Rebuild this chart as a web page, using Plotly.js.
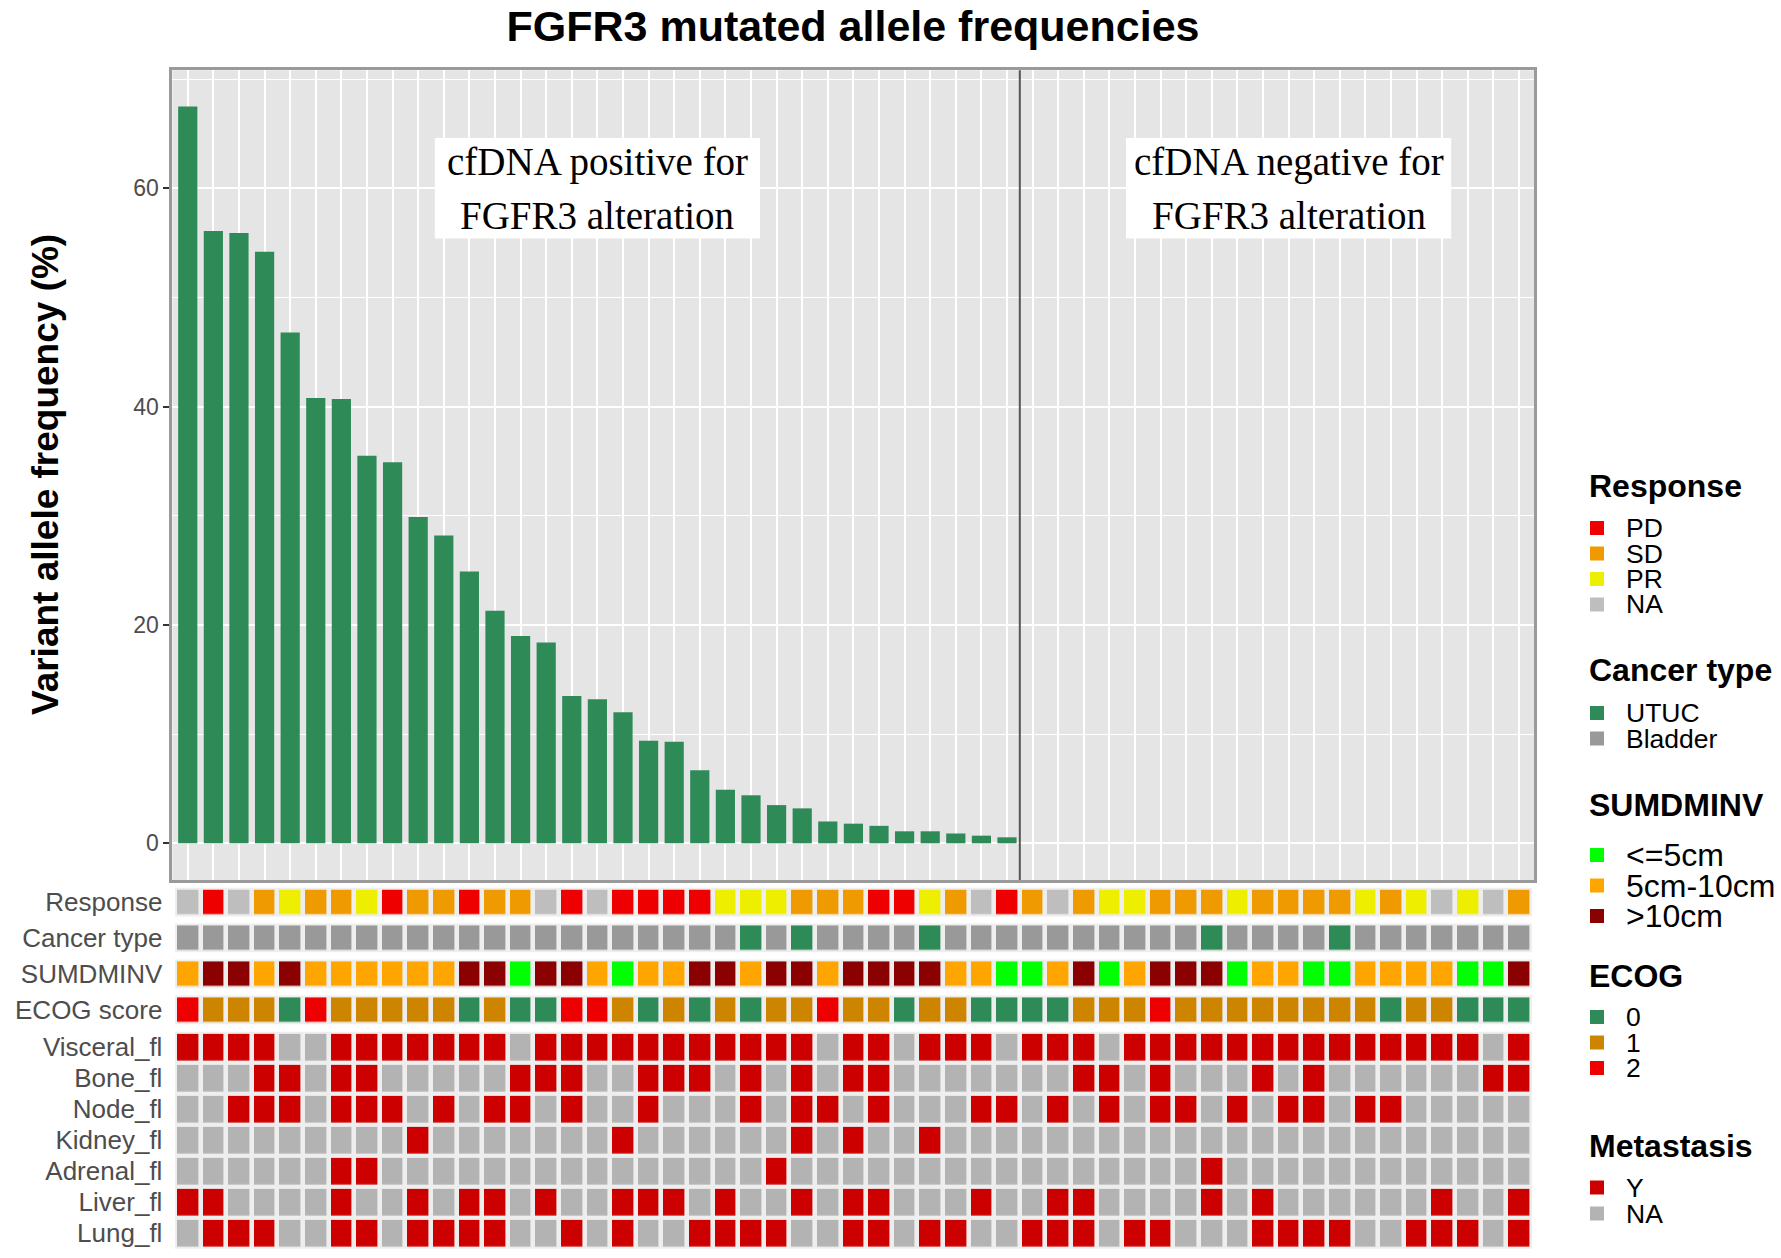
<!DOCTYPE html>
<html><head><meta charset="utf-8">
<script src="https://cdn.plot.ly/plotly-3.0.1.min.js"></script>
<style>html,body{margin:0;padding:0;background:#fff;}#chart{width:1781px;height:1258px;}</style>
</head><body><div id="chart"></div>
<script>
// ---------------- DATA ----------------
const vaf = [67.5, 56.1, 55.9, 54.2, 46.8, 40.8, 40.7, 35.5, 34.9, 29.9, 28.2, 24.9, 21.3, 19.0, 18.4,
  13.5, 13.2, 12.0, 9.4, 9.3, 6.7, 4.9, 4.4, 3.5, 3.2, 2.0, 1.8, 1.6, 1.1, 1.1, 0.9, 0.7, 0.55];
const nPatients = 53;

const response = ['NA','PD','NA','SD','PR','SD','SD','PR','PD','SD',
  'SD','PD','SD','SD','NA','PD','NA','PD','PD','PD',
  'PD','PR','PR','PR','SD','SD','SD','PD','PD','PR',
  'SD','NA','PD','SD','NA','SD','PR','PR','SD','SD',
  'SD','PR','SD','SD','SD','SD','PR','SD','PR','NA',
  'PR','NA','SD'];
const cancerType = ['Bladder','Bladder','Bladder','Bladder','Bladder','Bladder','Bladder','Bladder','Bladder','Bladder',
  'Bladder','Bladder','Bladder','Bladder','Bladder','Bladder','Bladder','Bladder','Bladder','Bladder',
  'Bladder','Bladder','UTUC','Bladder','UTUC','Bladder','Bladder','Bladder','Bladder','UTUC',
  'Bladder','Bladder','Bladder','Bladder','Bladder','Bladder','Bladder','Bladder','Bladder','Bladder',
  'UTUC','Bladder','Bladder','Bladder','Bladder','UTUC','Bladder','Bladder','Bladder','Bladder',
  'Bladder','Bladder','Bladder'];
const sumdminv = ['5cm-10cm','>10cm','>10cm','5cm-10cm','>10cm','5cm-10cm','5cm-10cm','5cm-10cm','5cm-10cm','5cm-10cm',
  '5cm-10cm','>10cm','>10cm','<=5cm','>10cm','>10cm','5cm-10cm','<=5cm','5cm-10cm','5cm-10cm',
  '>10cm','>10cm','5cm-10cm','>10cm','>10cm','5cm-10cm','>10cm','>10cm','>10cm','>10cm',
  '5cm-10cm','5cm-10cm','<=5cm','<=5cm','5cm-10cm','>10cm','<=5cm','5cm-10cm','>10cm','>10cm',
  '>10cm','<=5cm','5cm-10cm','5cm-10cm','<=5cm','<=5cm','5cm-10cm','5cm-10cm','5cm-10cm','5cm-10cm',
  '<=5cm','<=5cm','>10cm'];
const ecog = ['2','1','1','1','0','2','1','1','1','1',
  '1','0','1','0','0','2','2','1','0','1',
  '0','1','0','1','1','2','1','1','0','1',
  '1','0','0','0','0','1','1','1','2','1',
  '1','1','1','1','1','1','1','0','1','1',
  '0','0','0'];
const visceral = ['Y','Y','Y','Y','NA','NA','Y','Y','Y','Y',
  'Y','Y','Y','NA','Y','Y','Y','Y','Y','Y',
  'Y','Y','Y','Y','Y','NA','Y','Y','NA','Y',
  'Y','Y','NA','Y','Y','Y','NA','Y','Y','Y',
  'Y','Y','Y','Y','Y','Y','Y','Y','Y','Y',
  'Y','NA','Y'];
const bone = ['NA','NA','NA','Y','Y','NA','Y','Y','NA','NA',
  'NA','NA','NA','Y','Y','Y','NA','NA','Y','Y',
  'Y','NA','Y','NA','Y','NA','Y','Y','NA','NA',
  'NA','NA','NA','NA','NA','Y','Y','NA','Y','NA',
  'NA','NA','Y','NA','Y','NA','NA','NA','NA','NA',
  'NA','Y','Y'];
const node = ['NA','NA','Y','Y','Y','NA','Y','Y','Y','NA',
  'Y','NA','Y','Y','NA','Y','NA','NA','Y','NA',
  'NA','NA','Y','NA','Y','Y','NA','Y','NA','NA',
  'NA','Y','Y','NA','Y','NA','Y','NA','Y','Y',
  'NA','Y','NA','Y','Y','NA','Y','Y','NA','NA',
  'NA','NA','NA'];
const kidney = ['NA','NA','NA','NA','NA','NA','NA','NA','NA','Y',
  'NA','NA','NA','NA','NA','NA','NA','Y','NA','NA',
  'NA','NA','NA','NA','Y','NA','Y','NA','NA','Y',
  'NA','NA','NA','NA','NA','NA','NA','NA','NA','NA',
  'NA','NA','NA','NA','NA','NA','NA','NA','NA','NA',
  'NA','NA','NA'];
const adrenal = ['NA','NA','NA','NA','NA','NA','Y','Y','NA','NA',
  'NA','NA','NA','NA','NA','NA','NA','NA','NA','NA',
  'NA','NA','NA','Y','NA','NA','NA','NA','NA','NA',
  'NA','NA','NA','NA','NA','NA','NA','NA','NA','NA',
  'Y','NA','NA','NA','NA','NA','NA','NA','NA','NA',
  'NA','NA','NA'];
const liver = ['Y','Y','NA','NA','NA','NA','Y','NA','NA','Y',
  'NA','Y','Y','NA','Y','NA','NA','Y','Y','Y',
  'NA','Y','NA','NA','Y','NA','Y','Y','NA','NA',
  'NA','Y','NA','NA','Y','Y','NA','NA','NA','NA',
  'Y','NA','Y','NA','NA','NA','NA','NA','NA','Y',
  'NA','NA','Y'];
const lung = ['NA','Y','Y','Y','NA','NA','Y','Y','NA','Y',
  'Y','Y','Y','NA','NA','Y','NA','Y','NA','NA',
  'Y','Y','Y','Y','NA','NA','Y','Y','NA','Y',
  'Y','NA','NA','Y','Y','Y','NA','Y','Y','NA',
  'NA','NA','Y','Y','Y','Y','NA','NA','Y','Y',
  'Y','NA','Y'];

const metRowNames = ['Visceral_fl','Bone_fl','Node_fl','Kidney_fl','Adrenal_fl','Liver_fl','Lung_fl'];
const metRows = [visceral, bone, node, kidney, adrenal, liver, lung];

const responseLevels = ['PD','SD','PR','NA'];
const responseColors = ['#EE0000','#EE9A00','#EEEE00','#BEBEBE'];
const cancerLevels = ['UTUC','Bladder'];
const cancerColors = ['#2E8B57','#999999'];
const sumLevels = ['<=5cm','5cm-10cm','>10cm'];
const sumColors = ['#00FF00','#FFA500','#8B0000'];
const ecogLevels = ['0','1','2'];
const ecogColors = ['#2E8B57','#CD8500','#EE0000'];
const metLevels = ['Y','NA'];
const metColors = ['#CD0000','#B3B3B3'];

const panelLabels = ['cfDNA positive for', 'FGFR3 alteration', 'cfDNA negative for', 'FGFR3 alteration'];

// ---------------- LAYOUT HELPERS ----------------
const W = 1781, H = 1258;
const px = v => v / W;
const py = v => 1 - v / H;
const patientIdx = Array.from({length: nPatients}, (_, i) => i + 1);
const xRange = [0.4, nPatients + 0.6];
const xDomain = [px(172.4), px(1534.4)];
const FONT = 'Liberation Sans, Arial, sans-serif';

function stepScale(colors) {
  const n = colors.length, cs = [];
  colors.forEach((c, i) => { cs.push([i / n, c]); cs.push([(i + 1) / n, c]); });
  return cs;
}

const traces = [{
  type: 'bar', x: patientIdx.slice(0, vaf.length), y: vaf,
  marker: {color: '#2E8B57', line: {width: 0}}, width: 0.75,
  xaxis: 'x', yaxis: 'y', hoverinfo: 'skip'
}];

const tracks = [
  {name: 'Response', values: response, levels: responseLevels, colors: responseColors, top: 887.7, bottom: 916.6},
  {name: 'Cancer type', values: cancerType, levels: cancerLevels, colors: cancerColors, top: 923.4, bottom: 952.3},
  {name: 'SUMDMINV', values: sumdminv, levels: sumLevels, colors: sumColors, top: 959.4, bottom: 988.3},
  {name: 'ECOG score', values: ecog, levels: ecogLevels, colors: ecogColors, top: 995.4, bottom: 1024.3}
];

const layout = {
  width: W, height: H,
  margin: {l: 0, r: 0, t: 0, b: 0},
  paper_bgcolor: 'white', plot_bgcolor: 'rgba(0,0,0,0)',
  showlegend: false,
  font: {family: FONT},
  title: {text: 'FGFR3 mutated allele frequencies', x: px(853), xanchor: 'center', y: py(26), yanchor: 'middle',
    font: {family: FONT, size: 43, weight: 700, color: '#000'}},
  xaxis: {domain: xDomain, range: xRange, anchor: 'y', tickmode: 'linear', tick0: 1, dtick: 1,
    showticklabels: false, ticks: '', showgrid: true, gridcolor: '#FFFFFF', gridwidth: 2, zeroline: false,
    showline: true, mirror: true, linecolor: '#9A9A9A', linewidth: 3},
  yaxis: {domain: [py(880.1), py(70.2)], range: [-3.37, 70.82], anchor: 'x', tickmode: 'linear', tick0: 0, dtick: 20,
    ticks: 'outside', ticklen: 6, tickwidth: 2, tickcolor: '#333333',
    tickfont: {family: FONT, size: 23, color: '#4D4D4D'},
    showgrid: true, gridcolor: '#FFFFFF', gridwidth: 2, zeroline: false,
    minor: {dtick: 10, tick0: 0, showgrid: true, gridcolor: '#FFFFFF', gridwidth: 1, ticks: ''},
    showline: true, mirror: true, linecolor: '#9A9A9A', linewidth: 3},
  xaxis2: {domain: xDomain, range: xRange, anchor: 'y6', matches: 'x', visible: false, showgrid: false},
  shapes: [], annotations: []
};

// bar panel background
layout.shapes.push({type: 'rect', xref: 'x domain', yref: 'y domain', x0: 0, x1: 1, y0: 0, y1: 1,
  fillcolor: '#E5E5E5', line: {width: 0}, layer: 'below'});

// annotation tracks
tracks.forEach((t, k) => {
  const ax = 'y' + (k + 2);
  layout['yaxis' + (k + 2)] = {domain: [py(t.bottom), py(t.top)], anchor: 'x2', type: 'category',
    tickmode: 'array', tickvals: [t.name], ticktext: [t.name],
    ticks: '', showgrid: false, zeroline: false, showline: false, ticklabelstandoff: 9,
    tickfont: {family: FONT, size: 26, color: '#4D4D4D'}};
  traces.push({type: 'heatmap', x: patientIdx, y: [t.name],
    z: [t.values.map(v => t.levels.indexOf(v))],
    zmin: -0.5, zmax: t.levels.length - 0.5, colorscale: stepScale(t.colors), showscale: false,
    xgap: 4.6, ygap: 4.6, xaxis: 'x2', yaxis: ax, hoverinfo: 'skip'});
  layout.shapes.push({type: 'rect', xref: 'x2', yref: ax + ' domain', x0: 0.5, x1: nPatients + 0.5, y0: 0, y1: 1,
    fillcolor: '#EEEEEE', line: {width: 0}, layer: 'below'});
});

// metastasis block
layout.yaxis6 = {domain: [py(1248.85), py(1031.85)], anchor: 'x2', type: 'category',
  categoryorder: 'array', categoryarray: metRowNames, range: [metRowNames.length - 0.5, -0.5],
  tickmode: 'array', tickvals: metRowNames, ticktext: metRowNames,
  ticks: '', showgrid: false, zeroline: false, showline: false, ticklabelstandoff: 9,
  tickfont: {family: FONT, size: 26, color: '#4D4D4D'}};
traces.push({type: 'heatmap', x: patientIdx, y: metRowNames,
  z: metRows.map(r => r.map(v => metLevels.indexOf(v))),
  zmin: -0.5, zmax: metLevels.length - 0.5, colorscale: stepScale(metColors), showscale: false,
  xgap: 4.6, ygap: 4.3, xaxis: 'x2', yaxis: 'y6', hoverinfo: 'skip'});
layout.shapes.push({type: 'rect', xref: 'x2', yref: 'y6 domain', x0: 0.5, x1: nPatients + 0.5, y0: 0, y1: 1,
  fillcolor: '#EEEEEE', line: {width: 0}, layer: 'below'});

// separator between positive and negative groups
const nPos = vaf.length;
layout.shapes.push({type: 'line', xref: 'x', yref: 'y domain', x0: nPos + 0.5, x1: nPos + 0.5, y0: 0, y1: 1,
  line: {color: '#555555', width: 2}, layer: 'above'});

// panel labels (white boxes)
const labelCenters = [{x: 17, y: 60}, {x: 44, y: 60}];
labelCenters.forEach((c, i) => {
  layout.shapes.push({type: 'rect', xref: 'x', yref: 'y', x0: c.x - 6.35, x1: c.x + 6.35, y0: c.y - 4.6, y1: c.y + 4.6,
    fillcolor: '#FFFFFF', line: {width: 0}, layer: 'above'});
  [0, 1].forEach(j => {
    layout.annotations.push({xref: 'x', yref: 'y', x: c.x, y: c.y, yshift: j === 0 ? 26 : -27,
      text: panelLabels[i * 2 + j], showarrow: false, xanchor: 'center', yanchor: 'middle',
      font: {family: 'Liberation Serif, Times New Roman, serif', size: 39, color: '#000'}});
  });
});

// y axis title
layout.annotations.push({xref: 'paper', yref: 'paper', x: px(45), y: py(475), textangle: -90,
  text: 'Variant allele frequency (%)', showarrow: false, xanchor: 'center', yanchor: 'middle',
  font: {family: FONT, size: 37, weight: 700, color: '#000'}});

// manual legends
const legends = [
  {title: 'Response', levels: responseLevels, colors: responseColors, titleY: 486, itemY: 528, pitch: 25.5, size: 26.5},
  {title: 'Cancer type', levels: cancerLevels, colors: cancerColors, titleY: 670, itemY: 713, pitch: 25.5, size: 26.5},
  {title: 'SUMDMINV', levels: sumLevels, colors: sumColors, titleY: 805, itemY: 855, pitch: 30.5, size: 32},
  {title: 'ECOG', levels: ecogLevels, colors: ecogColors, titleY: 976, itemY: 1017, pitch: 25.5, size: 26.5},
  {title: 'Metastasis', levels: metLevels, colors: metColors, titleY: 1146, itemY: 1187.5, pitch: 26, size: 26.5}
];
const esc = s => s.replace(/</g, '&lt;').replace(/>/g, '&gt;');
legends.forEach(g => {
  layout.annotations.push({xref: 'paper', yref: 'paper', x: px(1587), y: py(g.titleY), xanchor: 'left', yanchor: 'middle',
    text: g.title, showarrow: false, font: {family: FONT, size: 32, weight: 700, color: '#000'}});
  g.levels.forEach((lv, i) => {
    const cy = g.itemY + i * g.pitch;
    layout.shapes.push({type: 'rect', xref: 'paper', yref: 'paper', x0: px(1590), x1: px(1604), y0: py(cy + 7), y1: py(cy - 7),
      fillcolor: g.colors[i], line: {width: 0}, layer: 'above'});
    layout.annotations.push({xref: 'paper', yref: 'paper', x: px(1624), y: py(cy), xanchor: 'left', yanchor: 'middle',
      text: esc(lv), showarrow: false, font: {family: FONT, size: g.size, color: '#000'}});
  });
});

Plotly.newPlot('chart', traces, layout, {displayModeBar: false, responsive: false});
</script>
</body></html>
